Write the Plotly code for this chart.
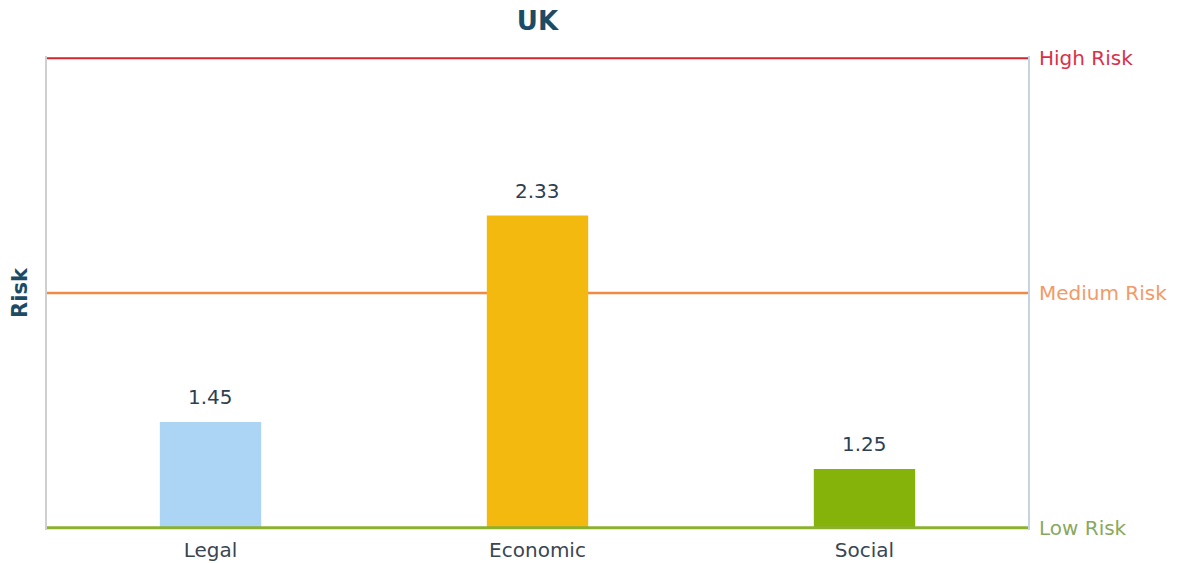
import plotly.graph_objects as go

categories = ["Legal", "Economic", "Social"]
values = [1.45, 2.33, 1.25]
bar_colors = ["#acd5f5", "#f3b90f", "#86b30a"]
risk_levels = [3, 2, 1]
risk_labels = ["High Risk", "Medium Risk", "Low Risk"]
risk_colors = ["#d42430", "#f08a44", "#8cb12f"]
text_colors = ["#d9314a", "#f19a6a", "#8aa860"]
risk_widths = [2, 2.5, 3]
risk_layers = ["below", "below", "above"]
base_level = 1

FONT = "DejaVu Sans"
pad = 0.01

fig = go.Figure()
fig.add_trace(go.Bar(
    x=categories, y=[v - base_level for v in values], base=base_level,
    marker=dict(color=bar_colors, line=dict(width=0)),
    width=0.31, hoverinfo="skip",
))

shapes = []
annotations = []
for lvl, lab, c, tc, w, ly in zip(risk_levels, risk_labels, risk_colors, text_colors,
                                  risk_widths, risk_layers):
    shapes.append(dict(type="line", xref="paper", yref="y", x0=0, x1=1, y0=lvl, y1=lvl,
                       line=dict(color=c, width=w), layer=ly))
    annotations.append(dict(xref="paper", yref="y", x=1, y=lvl, xanchor="left", xshift=9,
                            text=lab, showarrow=False,
                            font=dict(family=FONT, size=20, color=tc)))

for cat, v in zip(categories, values):
    annotations.append(dict(x=cat, y=v, xref="x", yref="y", text=f"{v:.2f}",
                            showarrow=False, yanchor="bottom", yshift=11,
                            font=dict(family=FONT, size=20, color="#2d3f52")))

fig.update_layout(
    width=1186, height=563,
    margin=dict(l=47, r=158, t=56, b=33, autoexpand=False),
    paper_bgcolor="white", plot_bgcolor="white",
    title=dict(text="<b>UK</b>", xref="paper", x=0.5, xanchor="center",
               yref="container", y=0.962, yanchor="middle",
               font=dict(family=FONT, size=26, color="#1c4b66")),
    showlegend=False,
    shapes=shapes, annotations=annotations,
    xaxis=dict(showgrid=False, zeroline=False, showline=False, ticks="",
               ticklabelstandoff=6, automargin=False,
               tickfont=dict(family=FONT, size=20, color="#3a4653")),
    yaxis=dict(range=[1 - pad, 3 + pad], showgrid=False, zeroline=False, showticklabels=False,
               showline=True, linecolor="#cfcfcf", linewidth=2, mirror=False,
               automargin=False,
               title=dict(text="<b>Risk</b>", standoff=12,
                          font=dict(family=FONT, size=21, color="#1c4b66"))),
    yaxis2=dict(overlaying="y", side="right", range=[1 - pad, 3 + pad], showgrid=False,
                showticklabels=False, showline=True, linecolor="#c5d3e3", linewidth=1.5,
                zeroline=False, automargin=False),
)
fig.add_trace(go.Scatter(x=categories, y=[None] * 3, yaxis="y2", showlegend=False,
                         hoverinfo="skip"))

fig.write_html("out.html")
